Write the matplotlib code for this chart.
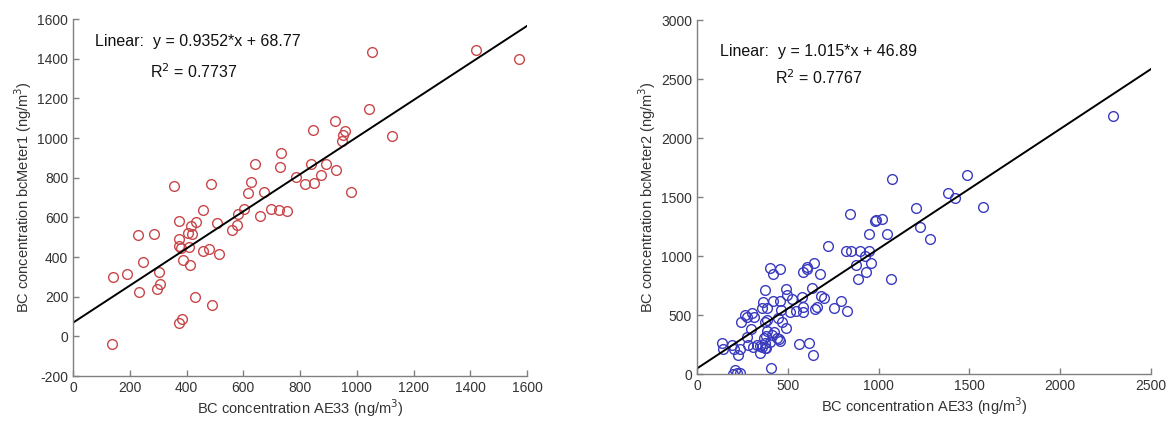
import matplotlib
matplotlib.use("Agg")
import matplotlib.pyplot as plt

plt.rcParams['font.family'] = ['Liberation Sans', 'DejaVu Sans']
plt.rcParams['axes.unicode_minus'] = False

# ---- Left panel data (AE33 vs bcMeter1) ----
ae33_1 = [136, 142, 189, 228, 287, 248, 232, 297, 307, 303,
          375, 375, 373, 380, 389, 411, 408, 405, 415, 419,
          434, 458, 458, 479, 513, 507, 384, 375, 429, 491,
          562, 578, 581, 603, 660, 697, 725, 754, 355, 485,
          642, 734, 731, 628, 616, 672, 787, 1054, 1422, 1572,
          1044, 925, 846, 957, 952, 949, 1124, 840, 893, 926,
          875, 819, 849, 980]
bcm1 = [-37, 297, 312, 512, 514, 375, 225, 239, 262, 324,
        583, 492, 457, 443, 386, 360, 448, 521, 554, 516,
        574, 637, 430, 440, 413, 571, 89, 66, 198, 160,
        536, 563, 618, 642, 605, 642, 637, 630, 760, 770,
        868, 924, 855, 778, 722, 726, 801, 1436, 1443, 1400,
        1146, 1087, 1041, 1036, 1015, 986, 1011, 868, 868, 838,
        811, 766, 773, 726]
slope1, icpt1 = 0.9352, 68.77
r2_1 = 0.7737

# ---- Right panel data (AE33 vs bcMeter2) ----
ae33_2 = [136, 141, 191, 204, 238, 226, 209, 220, 200, 235,
          282, 310, 329, 347, 356, 374, 345, 374, 380, 402,
          411, 426, 438, 457, 371, 453, 274, 297, 384, 380,
          490, 406, 562, 617, 640, 242, 264, 274, 301, 316,
          374, 466, 384, 448, 356, 387, 461, 512, 545, 582,
          582, 659, 650, 362, 420, 457, 374, 490, 497, 521,
          576, 632, 685, 700, 754, 793, 824, 402, 457, 417,
          585, 604, 604, 644, 677, 723, 820, 848, 898, 949,
          876, 931, 957, 888, 1070, 925, 842, 978, 988, 1017,
          949, 1045, 1076, 1206, 1228, 1284, 1384, 1421, 1485, 1575,
          2293]
bcm2 = [262, 212, 250, 215, 212, 158, 30, 8, 3, 12,
        243, 231, 246, 240, 231, 218, 175, 260, 220, 274,
        331, 359, 302, 282, 308, 297, 316, 378, 364, 322,
        387, 53, 252, 265, 161, 443, 500, 486, 514, 486,
        443, 443, 458, 472, 562, 562, 542, 528, 531, 528,
        570, 565, 555, 607, 621, 621, 712, 718, 669, 636,
        655, 731, 660, 640, 557, 616, 537, 895, 890, 847,
        867, 909, 887, 943, 845, 1085, 1045, 1045, 1045, 1040,
        926, 867, 938, 805, 808, 1000, 1356, 1299, 1305, 1314,
        1186, 1190, 1650, 1409, 1248, 1148, 1531, 1494, 1686, 1418,
        2186]
slope2, icpt2 = 1.015, 46.89
r2_2 = 0.7767

W, H = 1172, 423
fig = plt.figure(figsize=(W / 100, H / 100), dpi=100)

ax1 = fig.add_axes([73 / W, 1 - 376 / H, (527 - 73) / W, (376 - 19) / H])
ax2 = fig.add_axes([697 / W, 1 - 374 / H, (1151 - 697) / W, (374 - 20) / H])

axis_col = '#808080'
text_col = '#333333'


def style(ax):
    for s in ['top', 'right']:
        ax.spines[s].set_visible(False)
    for s in ['left', 'bottom']:
        ax.spines[s].set_color(axis_col)
        ax.spines[s].set_linewidth(1.0)
    ax.tick_params(direction='in', length=4, width=1, color=axis_col,
                   labelcolor=text_col, labelsize=10)


# Left panel
ax1.plot(ae33_1, bcm1, linestyle='none', marker='o', markersize=7,
         markerfacecolor='none', markeredgecolor='#c8474a', markeredgewidth=1.0)
ax1.plot([0, 1600], [icpt1, slope1 * 1600 + icpt1], color='black', lw=1.4)
ax1.set_xlim(0, 1600)
ax1.set_ylim(-200, 1600)
ax1.set_xticks(range(0, 1601, 200))
ax1.set_yticks(range(-200, 1601, 200))
style(ax1)
ax1.set_xlabel('BC concentration AE33 (ng/m$^3$)', fontsize=10.5, color=text_col, labelpad=2)
ax1.set_ylabel('BC concentration bcMeter1 (ng/m$^3$)', fontsize=10.5, color=text_col, labelpad=2)
ax1.text(78, 1485, f'Linear:  y = {slope1}*x + {icpt1}', fontsize=11.5,
         ha='left', va='center', color='#111111')
ax1.text(272, 1333, f'R$^2$ = {r2_1}', fontsize=11.5, ha='left', va='center', color='#111111')

# Right panel
ax2.plot(ae33_2, bcm2, linestyle='none', marker='o', markersize=7,
         markerfacecolor='none', markeredgecolor='#3a3abf', markeredgewidth=1.0)
ax2.plot([0, 2500], [icpt2, slope2 * 2500 + icpt2], color='black', lw=1.4)
ax2.set_xlim(0, 2500)
ax2.set_ylim(0, 3000)
ax2.set_xticks(range(0, 2501, 500))
ax2.set_yticks(range(0, 3001, 500))
style(ax2)
ax2.set_xlabel('BC concentration AE33 (ng/m$^3$)', fontsize=10.5, color=text_col, labelpad=2)
ax2.set_ylabel('BC concentration bcMeter2 (ng/m$^3$)', fontsize=10.5, color=text_col, labelpad=2)
ax2.text(127, 2729, f'Linear:  y = {slope2}*x + {icpt2}', fontsize=11.5,
         ha='left', va='center', color='#111111')
ax2.text(430, 2508, f'R$^2$ = {r2_2}', fontsize=11.5, ha='left', va='center', color='#111111')

fig.savefig('out.png', dpi=100)
